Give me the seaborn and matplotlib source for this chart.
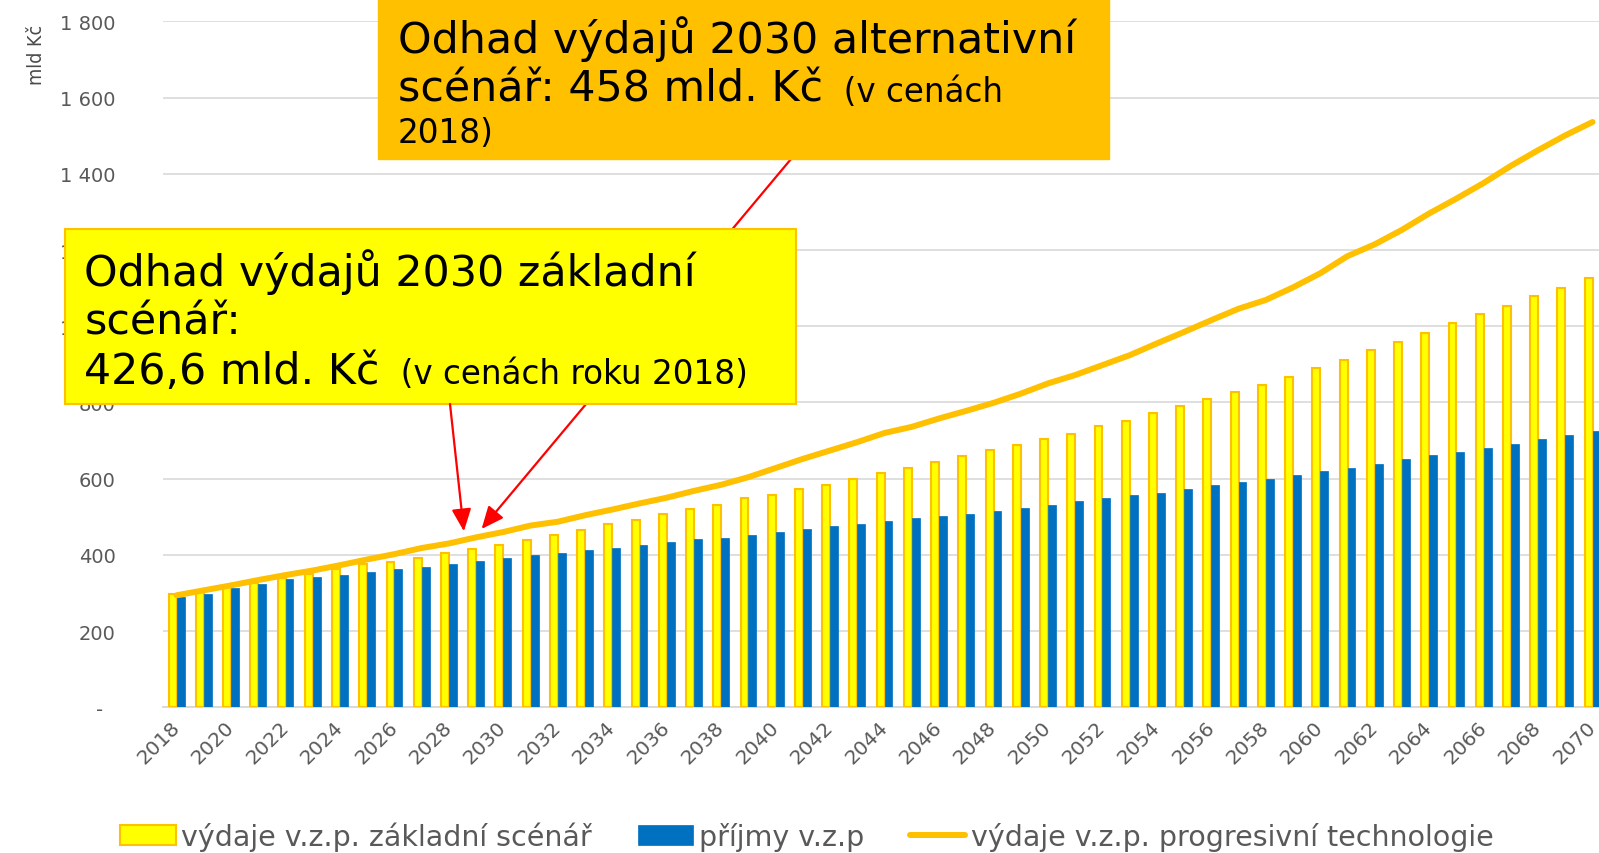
import numpy as np
import pandas as pd
import matplotlib
matplotlib.use("Agg")
import matplotlib.pyplot as plt
import seaborn as sns
from matplotlib.patches import Rectangle
from matplotlib import font_manager

# ============================================================
# DATA (mld Kč, v cenách 2018)
# ============================================================
years = list(range(2018, 2071))

vydaje_zakladni = [
    297, 304, 315, 327, 340, 349, 362, 375, 381, 393,
    404, 415, 427, 440, 451, 465, 480, 491, 506, 521,
    532, 548, 558, 574, 584, 599, 615, 629, 644, 659,
    674, 689, 703, 718, 737, 752, 772, 790, 808, 827,
    847, 868, 891, 911, 938, 959, 982, 1008, 1031, 1054,
    1080, 1101, 1127,
]

prijmy = [
    289, 298, 313, 324, 336, 343, 346, 354, 362, 369,
    376, 384, 392, 399, 405, 412, 419, 426, 433, 441,
    445, 452, 460, 467, 475, 482, 489, 497, 501, 508,
    515, 523, 530, 541, 549, 556, 563, 572, 583, 590,
    598, 609, 619, 628, 639, 651, 662, 669, 680, 691,
    704, 714, 725,
]

vydaje_progresivni = [
    294, 307, 320, 334, 347, 359, 373, 388, 402, 418,
    430, 446, 460, 477, 487, 504, 519, 535, 550, 568,
    584, 604, 628, 652, 674, 696, 720, 736, 758, 778,
    799, 823, 850, 872, 898, 924, 955, 985, 1016, 1046,
    1069, 1102, 1139, 1184, 1215, 1253, 1296, 1335, 1376, 1421,
    1462, 1501, 1536,
]

series_names = [
    "výdaje v.z.p. základní scénář",
    "příjmy v.z.p",
    "výdaje v.z.p. progresivní technologie",
]

y_ticks = [0, 200, 400, 600, 800, 1000, 1200, 1400, 1600, 1800]
y_ticklabels = ["-  ", "200", "400", "600", "800", "1 000", "1 200", "1 400", "1 600", "1 800"]

# ============================================================
# STYLE
# ============================================================
YELLOW = "#FFFF00"
GOLD = "#FFC000"
BLUE = "#0070C0"
GRAY_TXT = "#595959"
GRID = "#D9D9D9"

sns.set_style("white")
plt.rcParams["font.family"] = ["DejaVu Sans"]
plt.rcParams["text.color"] = "black"

available = {f.name for f in font_manager.fontManager.ttflist}
narrow = "Liberation Sans Narrow" if "Liberation Sans Narrow" in available else "DejaVu Sans"

W, H = 1599, 854
fig = plt.figure(figsize=(W / 100, H / 100), dpi=100)

# plot area in pixels: left 163, bottom 708, top 22 (value 1800)
ax_left, ax_bottom_px, ax_top_px = 163, 708.3, 22.4
cat_px = 27.23
ax = fig.add_axes([ax_left / W, 1 - ax_bottom_px / H,
                   (W - ax_left) / W, (ax_bottom_px - ax_top_px) / H])

# ============================================================
# BARS + LINE
# ============================================================
bars_df = pd.DataFrame({
    "year": years * 2,
    "value": vydaje_zakladni + prijmy,
    "series": [series_names[0]] * len(years) + [series_names[1]] * len(years),
})

sns.barplot(
    data=bars_df, x="year", y="value", hue="series",
    palette=[YELLOW, BLUE], saturation=1, width=0.58,
    native_scale=True, errorbar=None, legend=False, ax=ax, zorder=2,
)

for p in ax.containers[0]:
    p.set_edgecolor(GOLD)
    p.set_linewidth(1.5)
for p in ax.containers[1]:
    p.set_edgecolor(BLUE)
    p.set_linewidth(0.5)

sns.lineplot(x=years, y=vydaje_progresivni, color=GOLD, linewidth=4.3,
             ax=ax, zorder=3, solid_capstyle="round")
line = ax.lines[-1]

ax.set_xlim(2017.5, 2017.5 + (W - ax_left) / cat_px)
ax.set_ylim(0, 1800)
ax.set_yticks(y_ticks)
ax.set_yticklabels(y_ticklabels)
ax.set_xticks(years[::2])
ax.set_xticklabels([str(y) for y in years[::2]], rotation=45,
                   ha="right", va="center", rotation_mode="anchor")
ax.set_xlabel("")
ax.set_ylabel("")

ax.set_axisbelow(True)
ax.yaxis.grid(True, color=GRID, linewidth=1.2)
ax.xaxis.grid(False)
for side in ["top", "right", "left"]:
    ax.spines[side].set_visible(False)
ax.spines["bottom"].set_color(GRID)
ax.spines["bottom"].set_linewidth(1.4)
ax.spines["bottom"].set_zorder(1)

ax.tick_params(axis="y", length=0, pad=34, labelsize=14, labelcolor=GRAY_TXT)
ax.tick_params(axis="x", length=0, pad=12, labelsize=14.5, labelcolor=GRAY_TXT)

fig.text(36 / W, 1 - 55 / H, "mld Kč", rotation=90, ha="center", va="center",
         fontsize=14, color="#4a4a4a", family=narrow, stretch="condensed")

# legend
ax.legend(
    handles=[ax.containers[0], ax.containers[1], line],
    labels=series_names,
    loc="center", bbox_to_anchor=(807 / W, 1 - 837 / H), bbox_transform=fig.transFigure,
    ncol=3, frameon=False, fontsize=20.5, labelcolor=GRAY_TXT,
    handlelength=1.95, handleheight=0.7, handletextpad=0.2, columnspacing=1.6,
)

# ============================================================
# ANNOTATIONS (overlay in pixel coords, origin top-left)
# ============================================================
ov = fig.add_axes([0, 0, 1, 1], zorder=5)
ov.set_xlim(0, W)
ov.set_ylim(H, 0)
ov.axis("off")

BIG, SMALL = 30.8, 23.5

# orange box – alternative scenario
ov.add_patch(Rectangle((378, -2), 731, 162, facecolor=GOLD, edgecolor=GOLD, zorder=3))
# yellow box – base scenario
ov.add_patch(Rectangle((64.5, 229.5), 731, 175.5, facecolor=YELLOW, edgecolor=GOLD,
                       linewidth=1.5, zorder=3))

fig.canvas.draw()
renderer = fig.canvas.get_renderer()


def mixed_line(x, y, big_txt, small_txt):
    t = ov.text(x, y, big_txt, fontsize=BIG, va="baseline", ha="left",
                color="black", zorder=4)
    if small_txt:
        bb = t.get_window_extent(renderer)
        x_end = ov.transData.inverted().transform((bb.x1, bb.y0))[0]
        ov.text(x_end, y, small_txt, fontsize=SMALL, va="baseline", ha="left",
                color="black", zorder=4)


mixed_line(398, 53, "Odhad výdajů 2030 alternativní", "")
mixed_line(398, 102, "scénář: 458 mld. Kč", "  (v cenách")
ov.text(398, 143, "2018)", fontsize=SMALL, va="baseline", ha="left", color="black", zorder=4)

mixed_line(84.5, 286, "Odhad výdajů 2030 základní", "")
mixed_line(84.5, 335, "scénář:", "")
mixed_line(84.5, 384, "426,6 mld. Kč", "  (v cenách roku 2018)")

arrow_kw = dict(arrowstyle="-|>,head_length=0.8,head_width=0.35", color="#FF0000",
                lw=1.6, shrinkA=0, shrinkB=0, mutation_scale=17)
# from the orange box (passes under the yellow box)
ov.annotate("", xy=(2029.2, 468), xycoords=ax.transData,
            xytext=(791, 160), textcoords="data", arrowprops=arrow_kw, zorder=2)
# from the yellow box
ov.annotate("", xy=(2028.55, 462), xycoords=ax.transData,
            xytext=(450, 405), textcoords="data", arrowprops=arrow_kw, zorder=4)

fig.savefig("out.png", dpi=100)
print("Saved: out.png")
